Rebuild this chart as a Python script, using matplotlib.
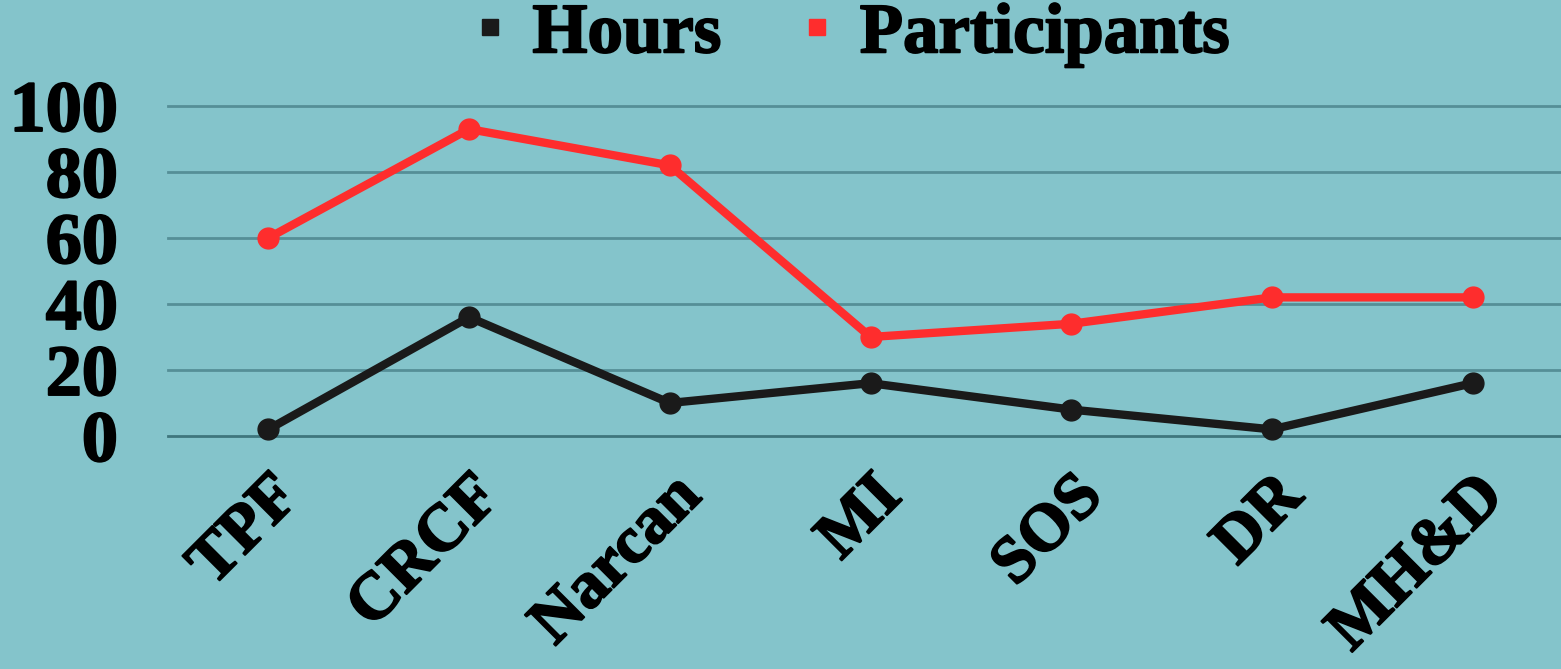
import matplotlib
matplotlib.use("Agg")
import matplotlib.pyplot as plt
import matplotlib.patheffects as pe
from matplotlib.lines import Line2D

# Data
categories = ["TPF", "CRCF", "Narcan", "MI", "SOS", "DR", "MH&D"]
hours = [2, 36, 10, 16, 8, 2, 16]
participants = [60, 93, 82, 30, 34, 42, 42]
yticks = [0, 20, 40, 60, 80, 100]

BG = "#84c4cb"
GRID = "#558f97"
BLACK = "#1a1a1a"
RED = "#fe2d2d"
FONT = "Liberation Serif"
bold_fx = [pe.withStroke(linewidth=1.4, foreground="black")]

fig = plt.figure(figsize=(15.61, 6.69), dpi=100, facecolor=BG)
ax = fig.add_axes([0.1076, 0.3483, 0.8924, 0.4933], facecolor=BG)

x = list(range(len(categories)))
ax.plot(x, hours, color=BLACK, linewidth=6, marker="o", markersize=15,
        solid_capstyle="round", zorder=4, clip_on=False)
ax.plot(x, participants, color=RED, linewidth=6, marker="o", markersize=15,
        solid_capstyle="round", zorder=4, clip_on=False)

ax.set_xlim(-0.5, 6.44)
ax.set_ylim(0, 100)
ax.set_yticks(yticks)
ax.set_yticklabels([str(v) for v in yticks], fontsize=52, fontweight="bold",
                   family=FONT, color="black")
ax.set_xticks(x)
ax.set_xticklabels(categories, rotation=45, ha="right", rotation_mode="anchor",
                   fontsize=48, fontweight="bold", family=FONT, color="black")
for t in ax.get_xticklabels() + ax.get_yticklabels():
    t.set_path_effects(bold_fx)
ax.tick_params(axis="both", length=0)
ax.tick_params(axis="y", pad=36)
ax.tick_params(axis="x", pad=21)

for y in yticks:
    ax.axhline(y, color=GRID if y else "#3f767d", linewidth=2, zorder=1, clip_on=False)
for s in ax.spines.values():
    s.set_visible(False)

handles = [
    Line2D([], [], color=BLACK, marker="s", linestyle="none", markersize=12),
    Line2D([], [], color=RED, marker="s", linestyle="none", markersize=12),
]
leg = fig.legend(handles, ["Hours", "Participants"], loc="center",
                 bbox_to_anchor=(0.545, 0.948), ncol=2, frameon=False,
                 prop={"family": FONT, "weight": "bold", "size": 51},
                 handletextpad=0.35, columnspacing=1.1, handlelength=0.5,
                 borderpad=0)
for t in leg.get_texts():
    t.set_path_effects(bold_fx)

fig.savefig("out.png", dpi=100, facecolor=BG)
